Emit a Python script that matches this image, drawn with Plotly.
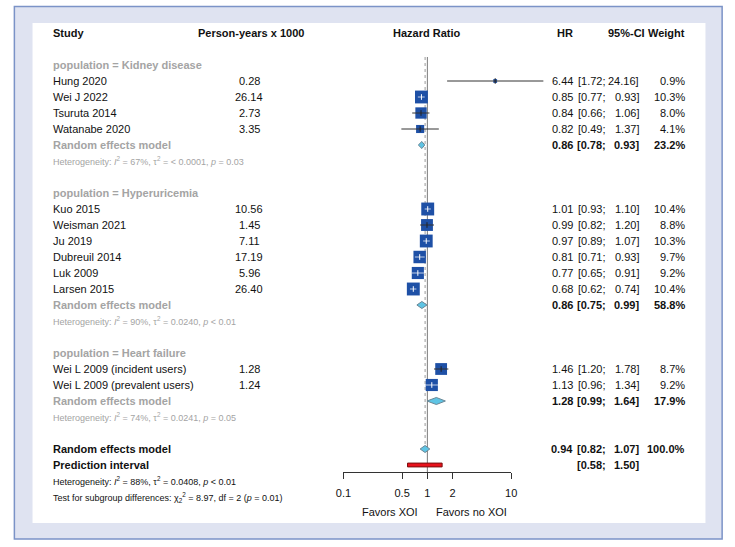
import math
import plotly.graph_objects as go

# ---------------- data ----------------
group_labels = ["Kidney disease", "Hyperuricemia", "Heart failure"]

kidney_study = ["Hung 2020", "Wei J 2022", "Tsuruta 2014", "Watanabe 2020"]
kidney_py = ["0.28", "26.14", "2.73", "3.35"]
kidney_hr = [6.44, 0.85, 0.84, 0.82]
kidney_lo = [1.72, 0.77, 0.66, 0.49]
kidney_hi = [24.16, 0.93, 1.06, 1.37]
kidney_w = [0.9, 10.3, 8.0, 4.1]

hyper_study = ["Kuo 2015", "Weisman 2021", "Ju 2019", "Dubreuil 2014", "Luk 2009", "Larsen 2015"]
hyper_py = ["10.56", "1.45", "7.11", "17.19", "5.96", "26.40"]
hyper_hr = [1.01, 0.99, 0.97, 0.81, 0.77, 0.68]
hyper_lo = [0.93, 0.82, 0.89, 0.71, 0.65, 0.62]
hyper_hi = [1.10, 1.20, 1.07, 0.93, 0.91, 0.74]
hyper_w = [10.4, 8.8, 10.3, 9.7, 9.2, 10.4]

hf_study = ["Wei L 2009 (incident users)", "Wei L 2009 (prevalent users)"]
hf_py = ["1.28", "1.24"]
hf_hr = [1.46, 1.13]
hf_lo = [1.20, 0.96]
hf_hi = [1.78, 1.34]
hf_w = [8.7, 9.2]

sub_hr = [0.86, 0.86, 1.28]
sub_lo = [0.78, 0.75, 0.99]
sub_hi = [0.93, 0.99, 1.64]
sub_w = [23.2, 58.8, 17.9]
sub_i2 = ["67%", "90%", "74%"]
sub_tau2 = ["= &lt; 0.0001", "= 0.0240", "= 0.0241"]
sub_p = ["= 0.03", "&lt; 0.01", "= 0.05"]

overall_hr = 0.94
overall_lo = 0.82
overall_hi = 1.07
overall_w = 100.0
pi_lo = 0.58
pi_hi = 1.50
overall_i2 = "88%"
overall_tau2 = "= 0.0408"
overall_p = "&lt; 0.01"
test_chi2 = "8.97"
test_df = "2"
test_p = "= 0.01"

axis_ticks = [0.1, 0.5, 1, 2, 10]
axis_ticktext = ["0.1", "0.5", "1", "2", "10"]

# ---------------- geometry ----------------
W, H = 735, 547
ROW0_PX = 33.0      # pixel y of row 0 (header)
ROW_PX = 16.0       # pixels per row
X1_PX = 427.5       # pixel x of HR = 1
DEC_PX = 85.5       # pixels per decade
FONT = "Liberation Sans, Arial, sans-serif"
GRAY = "#a4a4a4"
BLACK = "#111111"
SQ_COL = "#1e50a6"
DIA_FILL = "#5ec4e4"
DIA_LINE = "#6a8796"

def px(x):
    return x / W

def row_of(ypx):
    return (ypx - ROW0_PX) / ROW_PX

annotations = []

def txt(xpx, row, s, anchor="left", size=11, color=BLACK, bold=False):
    annotations.append(dict(
        x=px(xpx), xref="paper", y=row, yref="y",
        text=("<b>%s</b>" % s) if bold else s,
        showarrow=False, xanchor=anchor, yanchor="middle",
        font=dict(size=size, color=color, family=FONT), borderpad=0, borderwidth=0))

X_STUDY = 46
X_PY = 246
X_HR = 576
X_CIL = 610
X_CIR = 643
X_W = 690

def value_cols(row, hr, lo, hi, w, bold=False):
    txt(X_HR, row, "%.2f" % hr, "right", bold=bold)
    txt(X_CIL, row, "[%.2f;" % lo, "right", bold=bold)
    txt(X_CIR, row, "%.2f]" % hi, "right", bold=bold)
    txt(X_W, row, "%.1f%%" % w, "right", bold=bold)

# header
txt(X_STUDY, 0, "Study", bold=True)
txt(248, 0, "Person-years x 1000", "center", bold=True)
txt(X1_PX, 0, "Hazard Ratio", "center", bold=True)
txt(X_HR, 0, "HR", "right", bold=True)
txt(649, 0, "95%-CI", "right", bold=True)
txt(X_W, 0, "Weight", "right", bold=True)

groups = [
    (kidney_study, kidney_py, kidney_hr, kidney_lo, kidney_hi, kidney_w),
    (hyper_study, hyper_py, hyper_hr, hyper_lo, hyper_hi, hyper_w),
    (hf_study, hf_py, hf_hr, hf_lo, hf_hi, hf_w),
]

study_rows, s_hr, s_lo, s_hi, s_w = [], [], [], [], []
diamonds = []
row = 2
for gi, (names, pys, hrs, los, his, ws) in enumerate(groups):
    txt(X_STUDY, row, "population = %s" % group_labels[gi], color=GRAY, bold=True)
    row += 1
    for n, p, h, l, u, w in zip(names, pys, hrs, los, his, ws):
        txt(X_STUDY, row, n)
        txt(X_PY, row, p, "center")
        value_cols(row, h, l, u, w)
        study_rows.append(row); s_hr.append(h); s_lo.append(l); s_hi.append(u); s_w.append(w)
        row += 1
    txt(X_STUDY, row, "Random effects model", color=GRAY, bold=True)
    value_cols(row, sub_hr[gi], sub_lo[gi], sub_hi[gi], sub_w[gi], bold=True)
    diamonds.append((row, sub_hr[gi], sub_lo[gi], sub_hi[gi]))
    row += 1
    txt(X_STUDY, row, "Heterogeneity: <i>I</i><sup>2</sup> = %s, &#964;<sup>2</sup> %s, <i>p</i> %s"
        % (sub_i2[gi], sub_tau2[gi], sub_p[gi]), size=9, color=GRAY)
    row += 2

overall_row = row
txt(X_STUDY, overall_row, "Random effects model", bold=True)
value_cols(overall_row, overall_hr, overall_lo, overall_hi, overall_w, bold=True)
diamonds.append((overall_row, overall_hr, overall_lo, overall_hi))
pi_row = overall_row + 1
txt(X_STUDY, pi_row, "Prediction interval", bold=True)
txt(X_CIL, pi_row, "[%.2f;" % pi_lo, "right", bold=True)
txt(X_CIR, pi_row, "%.2f]" % pi_hi, "right", bold=True)
txt(X_STUDY, pi_row + 1, "Heterogeneity: <i>I</i><sup>2</sup> = %s, &#964;<sup>2</sup> %s, <i>p</i> %s"
    % (overall_i2, overall_tau2, overall_p), size=9)
txt(X_STUDY, pi_row + 2, "Test for subgroup differences: &#967;<sub>%s</sub><sup>2</sup> = %s, df = %s (<i>p</i> %s)"
    % (test_df, test_chi2, test_df, test_p), size=9)

AXIS_PX = 472
txt(418, row_of(512), "Favors XOI", "right")
txt(436, row_of(512), "Favors no XOI", "left")

# ---------------- traces ----------------
fig = go.Figure()

top_row = 1.5
axis_row = row_of(AXIS_PX)
fig.add_trace(go.Scatter(x=[1, 1], y=[top_row, axis_row], mode="lines",
                         line=dict(color="#7a7a7a", width=1), hoverinfo="skip"))
fig.add_trace(go.Scatter(x=[overall_hr, overall_hr], y=[top_row, overall_row], mode="lines",
                         line=dict(color="#9a9a9a", width=1, dash="dot"), hoverinfo="skip"))

SQ_K = 4.0
sizes = [SQ_K * math.sqrt(w) for w in s_w]

fig.add_trace(go.Scatter(x=s_hr, y=study_rows, mode="markers",
                         marker=dict(symbol="square", size=sizes, color=SQ_COL, opacity=1,
                                     line=dict(width=0)),
                         hoverinfo="skip"))

bx, by, wx, wy = [], [], [], []
tick_col = []
for r, h, l, u, s in zip(study_rows, s_hr, s_lo, s_hi, sizes):
    ext = DEC_PX * (math.log10(u) - math.log10(l))
    if ext <= s * 1.05:
        wx += [l, u, None]; wy += [r, r, None]; tick_col.append("white")
    else:
        bx += [l, u, None]; by += [r, r, None]; tick_col.append("#222222")
fig.add_trace(go.Scatter(x=bx, y=by, mode="lines", line=dict(color="#333333", width=1),
                         hoverinfo="skip"))
fig.add_trace(go.Scatter(x=wx, y=wy, mode="lines", line=dict(color="#e8eef8", width=0.8),
                         hoverinfo="skip"))
fig.add_trace(go.Scatter(x=s_hr, y=study_rows, mode="markers",
                         marker=dict(symbol="line-ns", size=4,
                                     line=dict(width=1, color=tick_col)),
                         hoverinfo="skip"))

DH = 0.22
for r, h, l, u in diamonds:
    fig.add_trace(go.Scatter(x=[l, h, u, h, l], y=[r, r - DH, r, r + DH, r],
                             mode="lines", fill="toself", fillcolor=DIA_FILL,
                             line=dict(color=DIA_LINE, width=1), hoverinfo="skip"))

PH = 0.12
fig.add_trace(go.Scatter(x=[pi_lo, pi_hi, pi_hi, pi_lo, pi_lo],
                         y=[pi_row - PH, pi_row - PH, pi_row + PH, pi_row + PH, pi_row - PH],
                         mode="lines", fill="toself", fillcolor="#e8121c",
                         line=dict(color="#7a1010", width=1), hoverinfo="skip"))

fig.add_trace(go.Scatter(x=[1], y=[0], xaxis="x2", yaxis="y2", mode="markers",
                         marker=dict(opacity=0), hoverinfo="skip"))

xr = [(0 - X1_PX) / DEC_PX, (W - X1_PX) / DEC_PX]

fig.update_layout(
    width=W, height=H, margin=dict(l=0, r=0, t=0, b=0),
    paper_bgcolor="white", plot_bgcolor="rgba(0,0,0,0)",
    showlegend=False,
    xaxis=dict(type="log", range=xr, domain=[0, 1], visible=False, fixedrange=True),
    yaxis=dict(range=[row_of(H), row_of(0)], domain=[0, 1], visible=False, fixedrange=True),
    xaxis2=dict(type="log", range=[-1, 1], domain=[px(X1_PX - DEC_PX), px(X1_PX + DEC_PX)],
                anchor="free", position=1 - AXIS_PX / H,
                showline=True, linecolor="#333333", linewidth=1,
                ticks="outside", ticklen=6, tickcolor="#333333", tickwidth=1,
                tickvals=axis_ticks, ticktext=axis_ticktext, ticklabelstandoff=5,
                tickfont=dict(size=11, color=BLACK, family=FONT),
                showgrid=False, zeroline=False, fixedrange=True),
    yaxis2=dict(domain=[0, 1], anchor="x2", visible=False, range=[0, 1]),
    annotations=annotations,
    shapes=[
        dict(type="rect", xref="paper", yref="paper", x0=px(6.5), x1=px(728), y0=1 - 539 / H,
             y1=1 - 6.5 / H, fillcolor="#dfe3f1", line=dict(color="#7b93c7", width=1.5),
             layer="below"),
        dict(type="rect", xref="paper", yref="paper", x0=px(25), x1=px(711), y0=1 - 523 / H,
             y1=1 - 23 / H, fillcolor="white", line=dict(width=0), layer="below"),
    ],
)

fig.write_html("out.html", config={"displayModeBar": False},
               post_script="document.body.style.margin='0';document.body.style.overflow='hidden';")
